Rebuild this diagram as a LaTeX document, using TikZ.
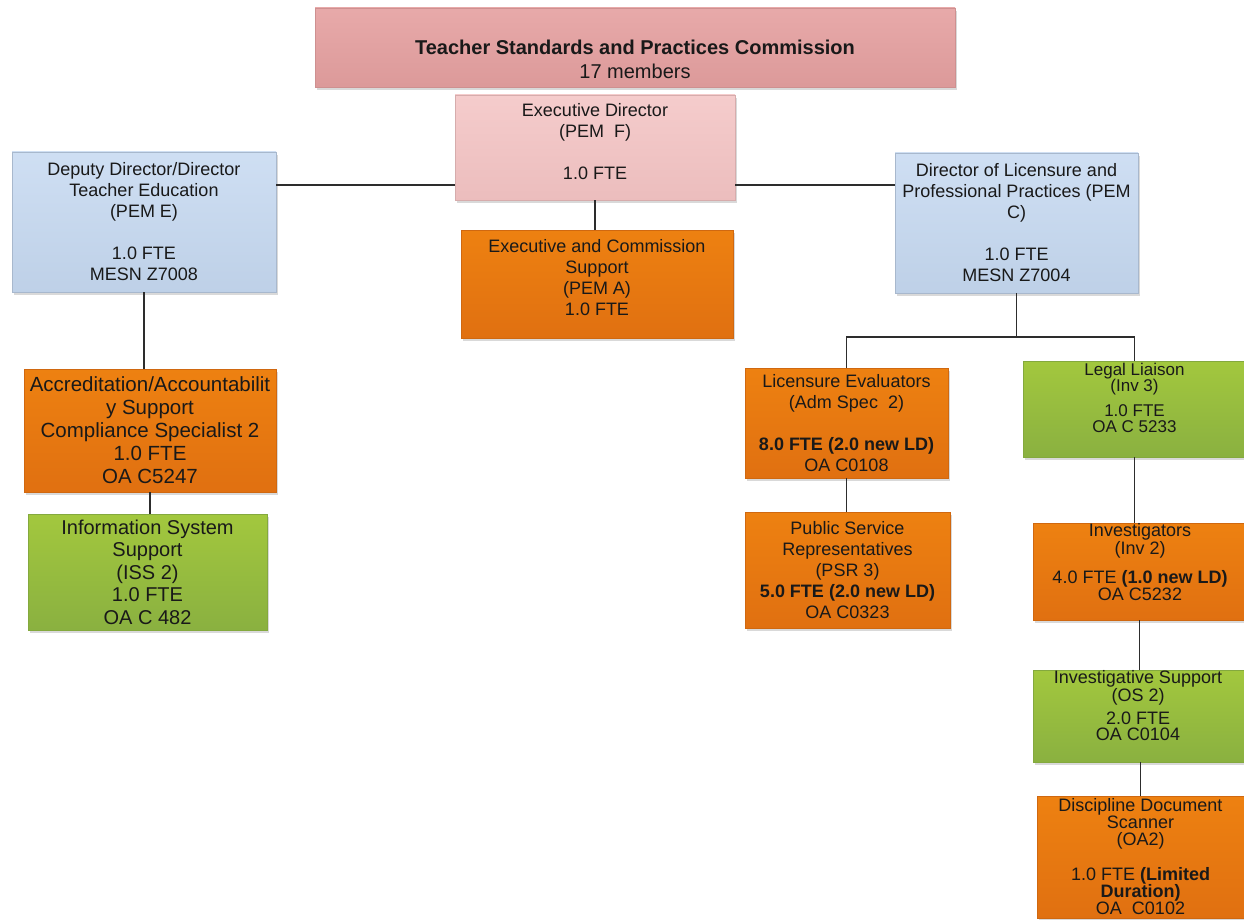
\documentclass[tikz,border=0pt]{standalone}
\usepackage{fontspec}
\setmainfont{Liberation Sans}
\usetikzlibrary{positioning, shadows, calc}

\definecolor{tspcred}{RGB}{229,160,160}
\definecolor{tspcpink}{RGB}{243,195,195}
\definecolor{tspcblue}{RGB}{198,217,241}
\definecolor{tspcorange}{RGB}{236,118,18}
\definecolor{tspcgreen}{RGB}{150,192,70}
\definecolor{tspcline}{RGB}{45,45,45}
\definecolor{tspctext}{RGB}{25,25,25}

\begin{document}
\begin{tikzpicture}
            [x=1pt, y=-1pt,
            block/.style={
                rectangle,
                inner sep=1pt,
                align=center,
                text=tspctext,
                font=\fontsize{18}{21}\selectfont,
                drop shadow={shadow xshift=2pt, shadow yshift=-3pt, opacity=0.3}
            },
            caption/.style={
                align=center,
                inner sep=0pt,
                text=tspctext,
                font=\fontsize{18}{21}\selectfont
            },
            line/.style={
                draw=tspcline, line width=1.2pt
            },
            redbox/.style={block, draw=tspcred!90!black, top color=tspcred!90!white, bottom color=tspcred!96!black},
            pinkbox/.style={block, draw=tspcpink!88!black, top color=tspcpink!85!white, bottom color=tspcpink!97!black},
            bluebox/.style={block, draw=tspcblue!85!black, top color=tspcblue!85!white, bottom color=tspcblue!96!black},
            orangebox/.style={block, draw=tspcorange!88!black, top color=tspcorange!92!yellow, bottom color=tspcorange!95!black},
            greenbox/.style={block, draw=tspcgreen!88!black, top color=tspcgreen!88!yellow, bottom color=tspcgreen!92!black}
            ]

            \useasboundingbox (0,0) rectangle (1244,920);

            % Commission and executive level
            \node[redbox, minimum width=640pt, minimum height=79pt] (comm) at (635,47.5) {};
            \node[caption, font=\fontsize{20}{24}\selectfont] (commtext) at (635,59) {\textbf{Teacher Standards and Practices Commission}\\17 members};
            \node[pinkbox, minimum width=280pt, minimum height=105pt] (exec) at (595,147.5) {};
            \node[caption] (exectext) at (595,142) {Executive Director\\(PEM~ F)\\[21pt]1.0 FTE};
            \node[orangebox, minimum width=272pt, minimum height=108pt] (support) at (597,284) {};
            \node[caption] (supporttext) at (597,278) {Executive and Commission\\Support\\(PEM A)\\1.0 FTE};

            % Directors
            \node[bluebox, minimum width=264pt, minimum height=140pt] (deputy) at (144,222) {Deputy Director/Director\\Teacher Education\\(PEM E)\\[21pt]1.0 FTE\\MESN Z7008};
            \node[bluebox, minimum width=243pt, minimum height=140pt] (dirlic) at (1016.5,223) {Director of Licensure and\\Professional Practices (PEM\\C)\\[21pt]1.0 FTE\\MESN Z7004};
            \coordinate (hline) at (600,185);
            \coordinate (licbus) at (1000,337);

            % Teacher education branch
            \node[orangebox, minimum width=252pt, minimum height=123pt, font=\fontsize{20.5}{23}\selectfont] (accred) at (150,430.5) {Accreditation/Accountabilit\\y Support\\Compliance Specialist 2\\1.0 FTE\\OA C5247};
            \node[greenbox, minimum width=239pt, minimum height=116pt, font=\fontsize{20}{22.5}\selectfont] (iss) at (147.5,572) {Information System\\Support\\(ISS 2)\\1.0 FTE\\OA C 482};

            % Licensure branch
            \node[orangebox, minimum width=203pt, minimum height=110pt] (liceval) at (846.5,423) {Licensure Evaluators\\(Adm Spec~ 2)\\[21pt]\textbf{8.0 FTE (2.0 new LD)}\\OA C0108};
            \node[orangebox, minimum width=205pt, minimum height=116pt] (psr) at (847.5,570) {Public Service\\Representatives\\(PSR 3)\\\textbf{5.0 FTE (2.0 new LD)}\\OA C0323};

            % Professional practices branch
            \node[greenbox, minimum width=223pt, minimum height=96pt] (legal) at (1134.5,409) {};
            \node[caption, font=\fontsize{17}{16}\selectfont] (legaltext) at (1134.5,398) {Legal Liaison\\(Inv 3)\\[9pt]1.0 FTE\\OA C 5233};
            \node[orangebox, minimum width=213pt, minimum height=97pt] (invest) at (1139.5,571.5) {};
            \node[caption, font=\fontsize{18}{16}\selectfont] (investtext) at (1140,562) {Investigators\\(Inv 2)\\[11pt]4.0 FTE \textbf{(1.0 new LD)}\\OA C5232};
            \node[greenbox, minimum width=215pt, minimum height=92pt] (invsup) at (1140.5,716) {};
            \node[caption, font=\fontsize{18}{16}\selectfont] (invsuptext) at (1138,706) {Investigative Support\\(OS 2)\\[6pt]2.0 FTE\\OA C0104};
            \node[orangebox, minimum width=207pt, minimum height=122pt, font=\fontsize{18}{17}\selectfont] (dds) at (1140.5,857) {Discipline Document\\Scanner\\(OA2)\\[18pt]1.0 FTE \textbf{(Limited}\\\textbf{Duration)}\\OA~ C0102};

            % Connectors
            \path [line] (deputy.east |- hline) -- (exec.west |- hline);
            \path [line] (exec.east |- hline) -- (dirlic.west |- hline);
            \path [line] (exec.south) -- (exec.south |- support.north);
            \path [line] (deputy.south) -- (deputy.south |- accred.north);
            \path [line] (accred.south) -- (accred.south |- iss.north);
            \path [line] (dirlic.south) -- (dirlic.south |- licbus);
            \path [line] (liceval.north) |- (legal.north |- licbus) -- (legal.north);
            \path [line] (liceval.south) -- (liceval.south |- psr.north);
            \path [line] (legal.south) -- (legal.south |- invest.north);
            \path [line] (invest.south) -- (invest.south |- invsup.north);
            \path [line] (invsup.south) -- (invsup.south |- dds.north);
\end{tikzpicture}
\end{document}
